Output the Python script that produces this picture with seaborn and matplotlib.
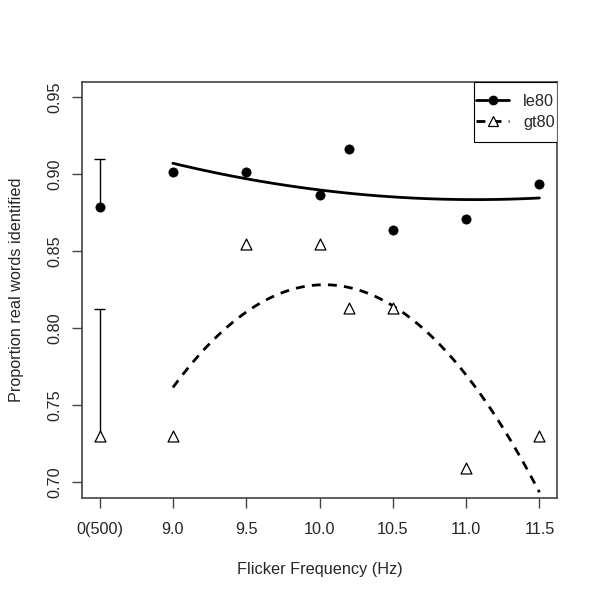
import numpy as np
import pandas as pd
import matplotlib
matplotlib.use('Agg')
import matplotlib.pyplot as plt
import seaborn as sns
from matplotlib.lines import Line2D
from matplotlib.patches import Rectangle

# Values (8.5 is where the 0(500) condition sits)
freq = [8.5, 9.0, 9.5, 10.0, 10.2, 10.5, 11.0, 11.5]
le80 = [0.879, 0.9015, 0.9015, 0.8866, 0.9166, 0.8635, 0.8712, 0.8939]
gt80 = [0.730, 0.730, 0.8547, 0.8547, 0.813, 0.813, 0.709, 0.730]
base_err = [0.031, 0.0825]  # upper error bars at 0(500): le80, gt80
tick_pos = [8.5, 9.0, 9.5, 10.0, 10.5, 11.0, 11.5]
tick_labels = ['0(500)', '9.0', '9.5', '10.0', '10.5', '11.0', '11.5']
y_ticks = [0.70, 0.75, 0.80, 0.85, 0.90, 0.95]

sns.set_style('white')
plt.rcParams['font.family'] = ['Liberation Sans', 'DejaVu Sans']

df = pd.DataFrame({'freq': freq, 'le80': le80, 'gt80': gt80})
flick = df[df['freq'] >= 9.0]

fig = plt.figure(figsize=(6, 6), dpi=100)
ax = fig.add_axes([0.1367, 0.1705, 0.7916, 0.6933])

dash = (0, (3.2, 2.6))

# quadratic fits over the flicker conditions
sns.regplot(data=flick, x='freq', y='le80', order=2, ci=None, scatter=False,
            ax=ax, line_kws={'color': 'black', 'lw': 2, 'ls': '-'})
sns.regplot(data=flick, x='freq', y='gt80', order=2, ci=None, scatter=False,
            ax=ax, line_kws={'color': 'black', 'lw': 2, 'ls': dash})

# points
sns.scatterplot(data=df, x='freq', y='le80', ax=ax, marker='o', s=44,
                color='black', edgecolor='black', zorder=3)
sns.scatterplot(data=df, x='freq', y='gt80', ax=ax, marker='^', s=62,
                facecolor='white', edgecolor='black', linewidth=0.9, zorder=3)

# one-sided error bars for the 0(500) condition
for yv, e in zip([le80[0], gt80[0]], base_err):
    ax.vlines(freq[0], yv, yv + e, color='black', lw=1, zorder=2)
    ax.hlines(yv + e, freq[0] - 0.035, freq[0] + 0.035, color='black', lw=1, zorder=2)

ax.set_xlim(8.38, 11.62)
ax.set_ylim(0.69, 0.96)
ax.set_xticks(tick_pos)
ax.set_xticklabels(tick_labels)
ax.set_yticks(y_ticks)
ax.set_yticklabels(['%.2f' % v for v in y_ticks])
ax.tick_params(axis='both', length=7, width=1, color='#444444', labelsize=11.7,
               direction='out', bottom=True, left=True)
ax.tick_params(axis='x', pad=10.5)
ax.tick_params(axis='y', pad=7, labelrotation=90)
for lab in ax.get_yticklabels():
    lab.set_va('center')

for sp in ax.spines.values():
    sp.set_color('#444444')
    sp.set_linewidth(1.2)

ax.set_xlabel('Flicker Frequency (Hz)', fontsize=11.7, labelpad=18)
ax.set_ylabel('Proportion real words identified', fontsize=11.7, labelpad=17)

# legend box in the top right corner, R style
ax.add_patch(Rectangle((0.825, 0.856), 0.175, 0.144, transform=ax.transAxes,
                       facecolor='white', edgecolor='black', lw=0.8, zorder=4))
handles = [
    Line2D([], [], color='black', lw=2, marker='o', markersize=6),
    Line2D([], [], color='black', lw=2, ls=dash, marker='^', markersize=7.5,
           markerfacecolor='white', markeredgewidth=0.9),
]
leg = ax.legend(handles, ['le80', 'gt80'], loc='center',
                bbox_to_anchor=(0.825, 0.856, 0.175, 0.144), borderaxespad=0,
                frameon=False, fontsize=11.7, handlelength=2.05,
                handletextpad=0.85, borderpad=0.15, labelspacing=0.36)
leg.set_zorder(5)

fig.savefig('out.png', dpi=100)
